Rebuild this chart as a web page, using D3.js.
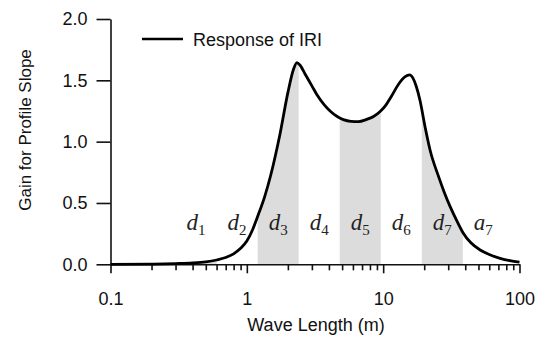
<!DOCTYPE html>
<html>
<head>
<meta charset="utf-8">
<script src="https://cdn.jsdelivr.net/npm/d3@7"></script>
<style>
  body { margin: 0; background: #fff; }
  text { font-family: "Liberation Sans", Arial, sans-serif; fill: #111; }
</style>
</head>
<body>
<div id="chart"></div>
<script>
// IRI response
const waveLength = [0.1, 0.2, 0.3, 0.4, 0.5, 0.6, 0.7, 0.8, 0.9, 1.0, 1.1, 1.2, 1.35, 1.5, 1.75, 2.0, 2.2, 2.33, 2.45, 2.68, 3.0, 3.26, 3.7, 4.08, 4.6, 5.1, 5.8, 6.6, 7.5, 8.5, 9.5, 10.5, 11.5, 13.0, 14.5, 15.6, 16.5, 17.5, 18.6, 20.3, 22.1, 25.5, 28, 31, 34.5, 38.4, 44, 51.5, 60, 72, 85, 100];
const gain = [0, 0.002, 0.006, 0.011, 0.02, 0.035, 0.055, 0.085, 0.13, 0.19, 0.28, 0.39, 0.55, 0.73, 1.06, 1.4, 1.59, 1.645, 1.625, 1.55, 1.455, 1.385, 1.3, 1.25, 1.205, 1.18, 1.166, 1.164, 1.18, 1.205, 1.245, 1.3, 1.37, 1.47, 1.53, 1.545, 1.52, 1.45, 1.34, 1.12, 0.93, 0.715, 0.59, 0.47, 0.36, 0.26, 0.175, 0.117, 0.08, 0.049, 0.03, 0.018];

// octave bands
const bandNames = ['d1', 'd2', 'd3', 'd4', 'd5', 'd6', 'd7', 'a7'];
const bandEdges = [0.3, 0.6, 1.2, 2.4, 4.8, 9.6, 19.2, 38.4, 76.8];
const shadedBands = ['d1', 'd3', 'd5', 'd7'];

const xMajor = [0.1, 1, 10, 100];
const yTicks = [0, 0.5, 1.0, 1.5, 2.0];

const width = 546;
const height = 342;
const margin = {left: 110.5, right: 26.5, top: 19, bottom: 77.7};

const svg = d3.select('#chart')
  .append('svg')
  .attr('width', width)
  .attr('height', height);

const x = d3.scaleLog()
  .domain([0.1, 100])
  .range([margin.left, width - margin.right]);

const y = d3.scaleLinear()
  .domain([0, 2])
  .range([height - margin.bottom, margin.top]);

const points = waveLength.map((w, i) => [w, gain[i]]);

const line = d3.line()
  .x(d => x(d[0]))
  .y(d => y(d[1]))
  .curve(d3.curveMonotoneX);

const area = d3.area()
  .x(d => x(d[0]))
  .y0(y(0))
  .y1(d => y(d[1]))
  .curve(d3.curveMonotoneX);

// shaded bands: area under the curve clipped to each band
const defs = svg.append('defs');
shadedBands.forEach(name => {
  const i = bandNames.indexOf(name);
  defs.append('clipPath')
    .attr('id', 'clip-' + name)
    .append('rect')
    .attr('x', x(bandEdges[i]))
    .attr('y', y(2))
    .attr('width', x(bandEdges[i + 1]) - x(bandEdges[i]))
    .attr('height', y(0) - y(2));
  svg.append('path')
    .datum(points)
    .attr('d', area)
    .attr('fill', '#dcdcdc')
    .attr('clip-path', 'url(#clip-' + name + ')');
});

// band labels
const labels = svg.append('g');
bandNames.forEach((name, i) => {
  const cx = x(Math.sqrt(bandEdges[i] * bandEdges[i + 1]));
  const t = labels.append('text')
    .attr('x', cx)
    .attr('y', 230)
    .attr('text-anchor', 'middle')
    .style('font-family', '"Liberation Serif", "Times New Roman", serif')
    .style('font-style', 'italic')
    .style('font-size', '23px')
    .style('fill', '#222');
  t.append('tspan').text(name[0]);
  t.append('tspan')
    .attr('dy', 5)
    .style('font-style', 'normal')
    .style('font-size', '15px')
    .text(name.slice(1));
});

// x axis
const xAxis = svg.append('g')
  .attr('transform', `translate(0, ${y(0)})`);

const minors = [];
[0.1, 1, 10].forEach(d => {
  for (let k = 2; k < 10; k++) minors.push(d * k);
});

xAxis.append('g')
  .call(d3.axisBottom(x).tickValues(minors).tickSize(6).tickSizeOuter(0).tickFormat(''))
  .call(g => g.select('.domain').remove());

xAxis.append('g')
  .call(d3.axisBottom(x).tickValues(xMajor).tickSize(9).tickSizeOuter(0).tickPadding(19)
    .tickFormat(d => d3.format('~g')(d)));

xAxis.selectAll('.domain, line').attr('stroke', '#111').attr('stroke-width', 1.6);
xAxis.selectAll('text')
  .style('font-family', '"Liberation Sans", Arial, sans-serif')
  .style('font-size', '18px')
  .attr('fill', '#111');

// y axis
const yAxis = svg.append('g')
  .attr('transform', `translate(${margin.left}, 0)`)
  .call(d3.axisLeft(y).tickValues(yTicks).tickSize(14).tickSizeOuter(0).tickPadding(9)
    .tickFormat(d3.format('.1f')));

yAxis.selectAll('.domain, line').attr('stroke', '#111').attr('stroke-width', 1.6);
yAxis.selectAll('text')
  .style('font-family', '"Liberation Sans", Arial, sans-serif')
  .style('font-size', '18px')
  .attr('fill', '#111');

// response curve
svg.append('path')
  .datum(points)
  .attr('d', line)
  .attr('fill', 'none')
  .attr('stroke', '#000')
  .attr('stroke-width', 2.8)
  .attr('stroke-linejoin', 'round');

// axis titles
svg.append('text')
  .attr('x', 316)
  .attr('y', 331)
  .attr('text-anchor', 'middle')
  .style('font-size', '18px')
  .text('Wave Length (m)');

svg.append('text')
  .attr('transform', 'translate(31, 130) rotate(-90)')
  .attr('text-anchor', 'middle')
  .style('font-size', '17px')
  .text('Gain for Profile Slope');

// legend
svg.append('line')
  .attr('x1', 142)
  .attr('x2', 183)
  .attr('y1', 39)
  .attr('y2', 39)
  .attr('stroke', '#000')
  .attr('stroke-width', 2.6);

svg.append('text')
  .attr('x', 193)
  .attr('y', 46)
  .style('font-size', '18px')
  .text('Response of IRI');
</script>
</body>
</html>
